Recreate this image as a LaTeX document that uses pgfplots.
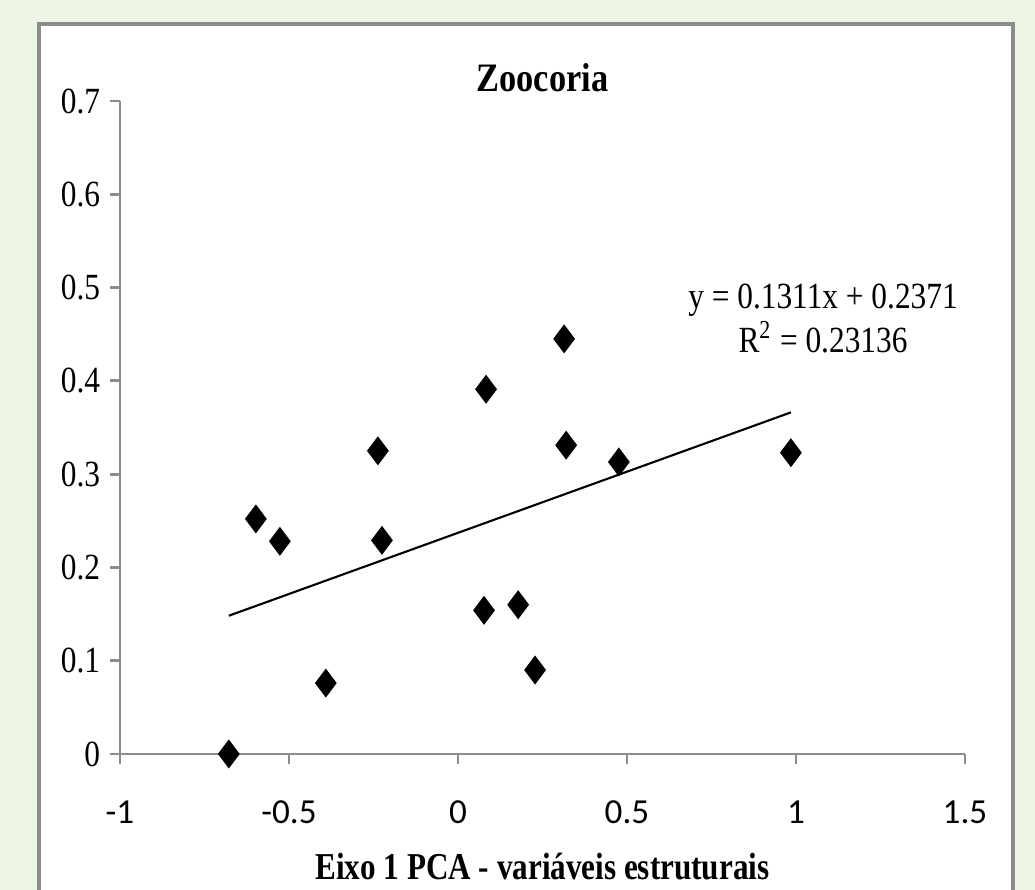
\documentclass[border=0pt]{standalone}
\usepackage{pgfplots}
\pgfplotsset{compat=1.18}
\usepackage{fontspec}
\setmainfont{Liberation Serif}[FakeStretch=0.85]
\newfontfamily\labelfont{Liberation Serif}[FakeStretch=0.82]
\newfontfamily\calibri{Carlito}
\definecolor{bggreen}{RGB}{236,245,230}
\definecolor{axgray}{RGB}{140,140,140}
\begin{document}
\begin{tikzpicture}[x=1cm,y=1cm]
\clip (0,0) rectangle (10.35,8.9);
\fill[bggreen] (0,0) rectangle (10.35,8.9);
\draw[axgray, line width=1pt, fill=white] (0.39,-0.5) rectangle (10.13,8.66);
\begin{axis}[
  at={(1.20cm,1.36cm)}, anchor=south west,
  scale only axis, width=8.45cm, height=6.53cm,
  xmin=-1, xmax=1.5, ymin=0, ymax=0.7,
  xtick={-1,-0.5,0,0.5,1,1.5},
  ytick={0,0.1,0.2,0.3,0.4,0.5,0.6,0.7},
  xticklabels={-1,-0.5,0,0.5,1,1.5},
  yticklabels={0,0.1,0.2,0.3,0.4,0.5,0.6,0.7},
  axis x line=bottom, axis y line=left,
  axis line style={-, axgray, line width=0.8pt},
  tick style={axgray, line width=0.8pt},
  tick align=outside, major tick length=2.8pt,
  x tick label style={font=\calibri\fontsize{10}{12}\selectfont, yshift=-7pt},
  y tick label style={font=\fontsize{10.5}{12}\selectfont, xshift=0.65pt},
  title={\bfseries Zoocoria},
  title style={font=\fontsize{11.5}{13}\selectfont, yshift=-7pt},
  xlabel={\labelfont\bfseries Eixo 1 PCA - variáveis estruturais},
  xlabel style={font=\fontsize{10.8}{13}\selectfont, yshift=-1.5pt},
  clip=false,
]
\addplot[only marks, mark=diamond*, mark size=3.8pt, black] coordinates {
  (-0.678,0.000) (-0.598,0.252) (-0.527,0.228) (-0.391,0.076)
  (-0.237,0.325) (-0.225,0.229) (0.083,0.391) (0.077,0.154)
  (0.178,0.160) (0.228,0.090) (0.314,0.445) (0.320,0.331)
  (0.476,0.313) (0.985,0.323)
};
\addplot[black, line width=0.6pt] coordinates {(-0.678,0.1482) (0.985,0.3662)};
\node[align=center, font=\fontsize{10.5}{12.5}\selectfont] at (axis cs:1.08,0.467)
  {y = 0.1311x + 0.2371\\R\textsuperscript{2} = 0.23136};
\end{axis}
\end{tikzpicture}
\end{document}
